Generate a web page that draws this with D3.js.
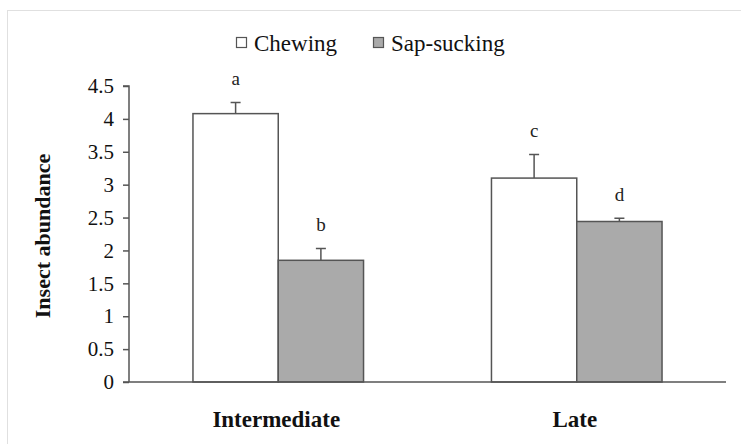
<!DOCTYPE html>
<html><head><meta charset="utf-8">
<script src="https://cdn.jsdelivr.net/npm/d3@7"></script>
<style>body{margin:0;background:#fff}svg{display:block}text{font-family:"Liberation Serif","DejaVu Serif",serif !important}</style>
</head><body>
<script>
const categories = ["Intermediate", "Late"];
const seriesNames = ["Chewing", "Sap-sucking"];
const chewing = [4.08, 3.10];
const sapSucking = [1.85, 2.44];
const chewingErr = [0.17, 0.36];
const sapErr = [0.18, 0.05];
const chewingLetters = ["a", "c"];
const sapLetters = ["b", "d"];
const yTicks = [0, 0.5, 1, 1.5, 2, 2.5, 3, 3.5, 4, 4.5];
const colors = ["#ffffff", "#aaaaaa"];

const W = 741, H = 444;
const svg = d3.select("body").append("svg").attr("width", W).attr("height", H);
svg.append("rect").attr("x", 7.5).attr("y", 10.5).attr("width", W).attr("height", H)
  .attr("fill", "none").attr("stroke", "#e0e0e0");

const m = {left: 129, right: 726, top: 86, bottom: 382};
const x0 = d3.scaleBand().domain(categories).range([m.left, m.right]).paddingInner(0).paddingOuter(0);
const y = d3.scaleLinear().domain([0, 4.5]).range([m.bottom, m.top]);
const bw = x0.bandwidth() * (1 / 3.5);
const x1 = d3.scaleBand().domain(seriesNames).range([x0.bandwidth()/2 - bw, x0.bandwidth()/2 + bw]);

const data = categories.map((c, i) => ({c, vals: [
  {s: seriesNames[0], v: chewing[i], e: chewingErr[i], l: chewingLetters[i], col: colors[0]},
  {s: seriesNames[1], v: sapSucking[i], e: sapErr[i], l: sapLetters[i], col: colors[1]}
]}));

const g = svg.selectAll(".grp").data(data).enter().append("g")
  .attr("transform", d => `translate(${x0(d.c)},0)`);
g.selectAll(".err").data(d => d.vals).enter().append("path")
  .attr("d", d => {
    const cx = x1(d.s) + x1.bandwidth()/2;
    return `M${cx},${y(d.v)}V${y(d.v + d.e)}M${cx-5},${y(d.v + d.e)}H${cx+5}`;
  }).attr("stroke", "#555").attr("stroke-width", 1.5).attr("fill", "none");
g.selectAll(".bar").data(d => d.vals).enter().append("rect")
  .attr("x", d => x1(d.s)).attr("width", x1.bandwidth())
  .attr("y", d => y(d.v)).attr("height", d => y(0) - y(d.v))
  .attr("fill", d => d.col).attr("stroke", "#555").attr("stroke-width", 1.5);
g.selectAll(".lab").data(d => d.vals).enter().append("text")
  .attr("x", d => x1(d.s) + x1.bandwidth()/2).attr("y", d => y(d.v + d.e) - 17)
  .attr("text-anchor", "middle").attr("font-size", 19)
  .attr("fill", "#222").text(d => d.l);

const ya = svg.append("g").attr("transform", `translate(${m.left},0)`)
  .call(d3.axisLeft(y).tickValues(yTicks).tickSize(6).tickPadding(9).tickFormat(d3.format("")));
ya.attr("font-family", null);
ya.select(".domain").attr("stroke", "#555").attr("stroke-width", 1.5).attr("d", `M-6,${y(4.5)}H0V${y(0)}`);
ya.selectAll(".tick line").attr("stroke", "#555").attr("stroke-width", 1.5);
ya.selectAll("text").attr("font-size", 21).attr("fill", "#111");

svg.append("line").attr("x1", m.left - 6).attr("x2", m.right).attr("y1", y(0)).attr("y2", y(0))
  .attr("stroke", "#555").attr("stroke-width", 1.5);

svg.selectAll(".cat").data(categories).enter().append("text")
  .attr("x", d => x0(d) + x0.bandwidth()/2 - 2).attr("y", 427)
  .attr("text-anchor", "middle").attr("font-weight", "bold")
  .attr("font-size", 23).attr("fill", "#111").text(d => d);

svg.append("text").attr("transform", `translate(50,${(m.top + m.bottom)/2 + 2}) rotate(-90)`)
  .attr("text-anchor", "middle").attr("font-weight", "bold")
  .attr("font-size", 22).attr("fill", "#111").text("Insect abundance");

const legX = [236, 373];
const lg = svg.selectAll(".leg").data(seriesNames).enter().append("g")
  .attr("transform", (d, i) => `translate(${legX[i]},44)`);
lg.append("rect").attr("x", 0.5).attr("y", -6.5).attr("width", 10).attr("height", 10)
  .attr("fill", (d, i) => colors[i]).attr("stroke", "#555").attr("stroke-width", 1.2);
lg.append("text").attr("x", 18).attr("y", 7)
  .attr("font-size", 23).attr("fill", "#111").text(d => d);
</script>
</body></html>
